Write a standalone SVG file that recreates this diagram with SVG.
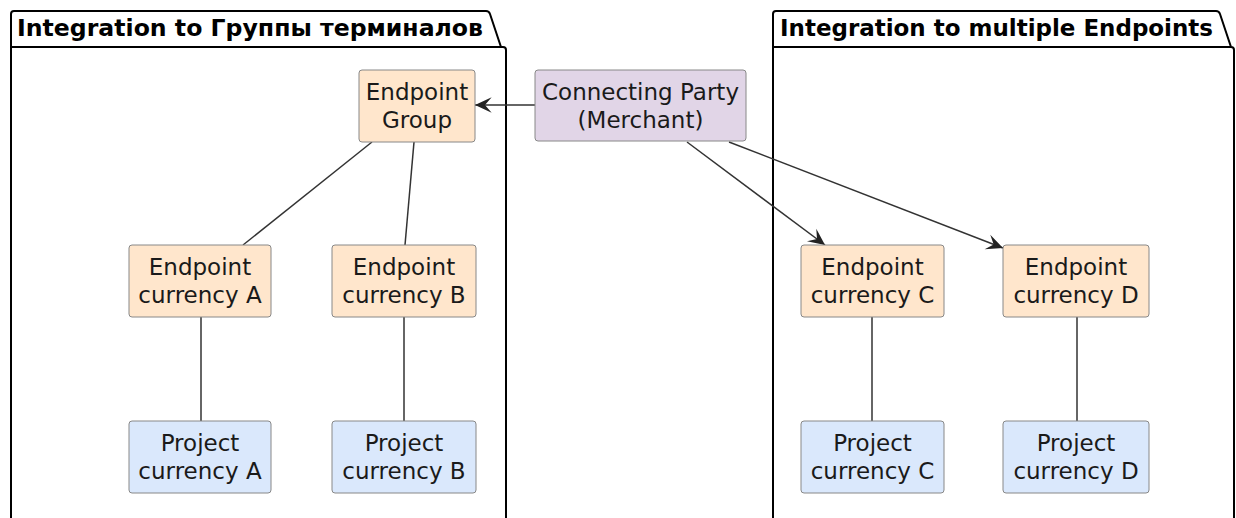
<svg xmlns="http://www.w3.org/2000/svg" width="1236" height="518" viewBox="0 0 1236 518">
<style>
.pkg{fill:none;stroke:#000;stroke-width:2}
.ptitle{font-family:"DejaVu Sans",sans-serif;font-weight:bold;font-size:23px;fill:#000}
.node{stroke:#888;stroke-width:1}
.ep{fill:#FFE6CC}
.pr{fill:#DAE8FC}
.cp{fill:#E1D5E7}
.lbl{font-family:"DejaVu Sans",sans-serif;font-size:23px;fill:#1a1a1a;text-anchor:middle}
.edge{fill:none;stroke:#333;stroke-width:1.5}
</style>
<defs>
<marker id="arr" markerUnits="userSpaceOnUse" markerWidth="20" markerHeight="20" viewBox="-17 -8 18 16" refX="0" refY="0" orient="auto">
<path d="M0,0 L-15,-7 L-9,0 L-15,7 Z" fill="#222"/>
</marker>
</defs>
<rect width="1236" height="518" fill="#fff"/>
<g id="pkg-left">
<path class="pkg" d="M11,522 V14 Q11,11 14,11 H486 Q489,11 490,14 L501,47 H503 Q506,47 506,50 V522"/>
<path class="pkg" d="M11,47 H501"/>
<text class="ptitle" x="17" y="36" textLength="466" lengthAdjust="spacingAndGlyphs">Integration to Группы терминалов</text>
</g>
<g id="pkg-right">
<path class="pkg" d="M773,522 V14 Q773,11 776,11 H1216 Q1219,11 1220,14 L1231,47 Q1234,47 1234,50 V522"/>
<path class="pkg" d="M773,47 H1231"/>
<text class="ptitle" x="780" y="36" textLength="433" lengthAdjust="spacingAndGlyphs">Integration to multiple Endpoints</text>
</g>
<g id="connectors">
<path class="edge" d="M535,105 L475,105" marker-end="url(#arr)"/>
<path class="edge" d="M372,142 L243,245"/>
<path class="edge" d="M414,142 L405,245"/>
<path class="edge" d="M201,317 V421"/>
<path class="edge" d="M404,317 V421"/>
<path class="edge" d="M687,142 L825,245" marker-end="url(#arr)"/>
<path class="edge" d="M729,142 L1003,248" marker-end="url(#arr)"/>
<path class="edge" d="M872,317 V421"/>
<path class="edge" d="M1077,317 V421"/>
</g>
<g id="endpoint-group">
<rect class="node ep" x="359" y="70" width="116" height="72" rx="3"/>
<text class="lbl" x="417" y="100">Endpoint</text>
<text class="lbl" x="417" y="128">Group</text>
</g>
<g id="connecting-party">
<rect class="node cp" x="535" y="70" width="211" height="71" rx="3"/>
<text class="lbl" x="640.5" y="100">Connecting Party</text>
<text class="lbl" x="640.5" y="128">(Merchant)</text>
</g>
<g id="endpoint-a">
<rect class="node ep" x="129" y="245" width="142" height="72" rx="3"/>
<text class="lbl" x="200" y="275">Endpoint</text>
<text class="lbl" x="200" y="303">currency A</text>
</g>
<g id="endpoint-b">
<rect class="node ep" x="332" y="245" width="144" height="72" rx="3"/>
<text class="lbl" x="404" y="275">Endpoint</text>
<text class="lbl" x="404" y="303">currency B</text>
</g>
<g id="endpoint-c">
<rect class="node ep" x="801" y="245" width="143" height="72" rx="3"/>
<text class="lbl" x="872.5" y="275">Endpoint</text>
<text class="lbl" x="872.5" y="303">currency C</text>
</g>
<g id="endpoint-d">
<rect class="node ep" x="1003" y="245" width="146" height="72" rx="3"/>
<text class="lbl" x="1076" y="275">Endpoint</text>
<text class="lbl" x="1076" y="303">currency D</text>
</g>
<g id="project-a">
<rect class="node pr" x="129" y="421" width="142" height="72" rx="3"/>
<text class="lbl" x="200" y="451">Project</text>
<text class="lbl" x="200" y="479">currency A</text>
</g>
<g id="project-b">
<rect class="node pr" x="332" y="421" width="144" height="72" rx="3"/>
<text class="lbl" x="404" y="451">Project</text>
<text class="lbl" x="404" y="479">currency B</text>
</g>
<g id="project-c">
<rect class="node pr" x="801" y="421" width="143" height="72" rx="3"/>
<text class="lbl" x="872.5" y="451">Project</text>
<text class="lbl" x="872.5" y="479">currency C</text>
</g>
<g id="project-d">
<rect class="node pr" x="1003" y="421" width="146" height="72" rx="3"/>
<text class="lbl" x="1076" y="451">Project</text>
<text class="lbl" x="1076" y="479">currency D</text>
</g>
</svg>
